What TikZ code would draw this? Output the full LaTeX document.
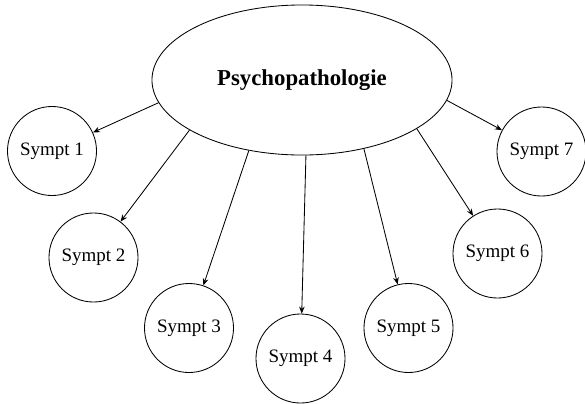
\documentclass[tikz,border=0pt]{standalone}
\usepackage{fontspec}
\setmainfont{Liberation Serif}
\usetikzlibrary{shapes.geometric,arrows.meta}

\begin{document}
\begin{tikzpicture}[x=0.025cm,y=-0.025cm,
    sympt/.style={draw,circle,line width=0.6pt,inner sep=0pt,minimum size=2.225cm,
        font=\fontsize{13.5}{16}\selectfont},
    main/.style={draw,ellipse,line width=0.6pt,inner sep=0pt,minimum width=7.5cm,
        minimum height=3.75cm,font=\fontsize{16.2}{19}\selectfont\bfseries},
    link/.style={-{Stealth[length=5pt,width=4pt]},line width=0.6pt}]
    \useasboundingbox (0,0) rectangle (585,403);
    % centre
    \node[main] (psy) at (302,80) {Psychopathologie};
    % symptoms
    \node[sympt] (s1) at (52,151) {Sympt 1};
    \node[sympt] (s2) at (93.5,257.5) {Sympt 2};
    \node[sympt] (s3) at (189,328) {Sympt 3};
    \node[sympt] (s4) at (300.5,358.5) {Sympt 4};
    \node[sympt] (s5) at (408.5,328) {Sympt 5};
    \node[sympt] (s6) at (497.5,253.5) {Sympt 6};
    \node[sympt] (s7) at (541.5,151.5) {Sympt 7};
    % arrows
    \draw[link] (psy.189) -- (s1);
    \draw[link] (psy.204.5) -- (s2);
    \draw[link] (psy.233.6) -- (s3);
    \draw[link] (psy.273.8) -- (s4);
    \draw[link] (psy.312) -- (s5);
    \draw[link] (psy.337.9) -- (s6);
    \draw[link] (psy.352) -- (s7);
\end{tikzpicture}
\end{document}
